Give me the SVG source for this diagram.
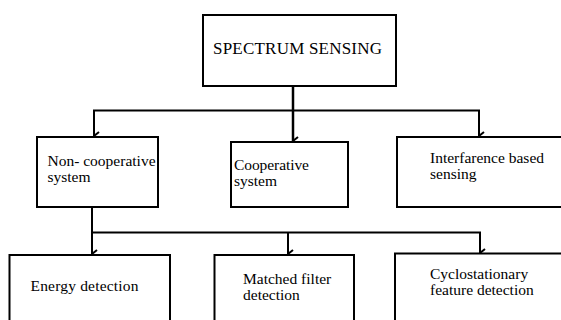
<svg xmlns="http://www.w3.org/2000/svg" width="561" height="320" viewBox="0 0 561 320">
<defs>
<marker id="arr" viewBox="0 0 10 8" refX="5" refY="7" markerWidth="10" markerHeight="8" markerUnits="userSpaceOnUse" orient="auto-start-reverse">
<polyline points="1,2 5,7 9,2" fill="none" stroke="#000" stroke-width="2"/>
</marker>
<style>
.box{fill:#fff;stroke:#000;stroke-width:2}
.t{font-family:"Liberation Serif","Times New Roman",serif;font-size:15.5px;fill:#000}
.c{fill:none;stroke:#000;stroke-width:2}
</style>
</defs>
<rect width="561" height="320" fill="#fff"/>
<g id="connectors">
<line class="c" x1="293" y1="86" x2="293" y2="141" marker-end="url(#arr)" style="stroke-width:2.5"/>
<line class="c" x1="93" y1="110.5" x2="480" y2="110.5"/>
<line class="c" x1="94" y1="110" x2="94" y2="136" marker-end="url(#arr)"/>
<line class="c" x1="479" y1="110" x2="479" y2="136" marker-end="url(#arr)"/>
<line class="c" x1="92" y1="207" x2="92" y2="254" marker-end="url(#arr)"/>
<line class="c" x1="91" y1="232.5" x2="481" y2="232.5"/>
<line class="c" x1="288" y1="232" x2="288" y2="254" marker-end="url(#arr)"/>
<line class="c" x1="480" y1="232" x2="480" y2="253" marker-end="url(#arr)"/>
</g>
<g id="spectrum-sensing">
<rect class="box" x="203" y="15" width="193" height="71"/>
<text class="t" x="213" y="54" style="font-size:17px" textLength="169">SPECTRUM SENSING</text>
</g>
<g id="non-cooperative">
<rect class="box" x="37" y="137" width="121" height="70"/>
<text class="t" x="47.5" y="166">Non- cooperative</text>
<text class="t" x="47.5" y="182">system</text>
</g>
<g id="cooperative">
<rect class="box" x="231" y="142" width="117" height="65"/>
<text class="t" x="234" y="169.5" textLength="75">Cooperative</text>
<text class="t" x="234" y="186">system</text>
</g>
<g id="interference">
<rect class="box" x="397" y="137" width="170" height="70"/>
<text class="t" x="430" y="163">Interfarence based</text>
<text class="t" x="430" y="178.5">sensing</text>
</g>
<g id="energy">
<rect class="box" x="9.5" y="255" width="160.5" height="80"/>
<text class="t" x="30.5" y="291" textLength="108">Energy  detection</text>
</g>
<g id="matched">
<rect class="box" x="214.5" y="255" width="139.5" height="80"/>
<text class="t" x="243" y="284">Matched filter</text>
<text class="t" x="243" y="300">detection</text>
</g>
<g id="cyclostationary">
<rect class="box" x="395" y="253.5" width="172" height="80"/>
<text class="t" x="430" y="279">Cyclostationary</text>
<text class="t" x="430" y="294.5">feature detection</text>
</g>
</svg>
